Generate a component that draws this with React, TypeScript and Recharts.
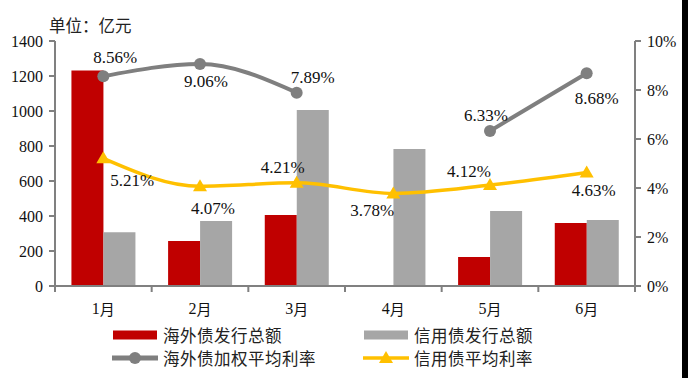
import React from "react";
import { Bar, ComposedChart, LabelList, Line, XAxis, YAxis } from "recharts";

/* ── data ── */
const months = ["1月", "2月", "3月", "4月", "5月", "6月"];
const overseasIssue = [1232, 257, 406, null, 166, 360]; // 海外债发行总额 (亿元)
const creditIssue = [307, 371, 1006, 783, 429, 377]; // 信用债发行总额 (亿元)
const overseasRate = [8.56, 9.06, 7.89, null, 6.33, 8.68]; // 海外债加权平均利率 (%)
const creditRate = [5.21, 4.07, 4.21, 3.78, 4.12, 4.63]; // 信用债平均利率 (%)
const leftTicks = [0, 200, 400, 600, 800, 1000, 1200, 1400];
const rightTicks = [0, 2, 4, 6, 8, 10];

/* label offsets (px) relative to each point */
const overseasLabelOffset = [
  [12, -19],
  [6, 17],
  [16, -15],
  [0, 0],
  [-4, -15],
  [10, 25],
];
const creditLabelOffset = [
  [29, 22],
  [13, 22],
  [-14, -15],
  [-21, 17],
  [-21, -14],
  [7, 18],
];

const data = months.map((month, i) => ({
  month,
  overseasIssue: overseasIssue[i],
  creditIssue: creditIssue[i],
  overseasRate: overseasRate[i],
  creditRate: creditRate[i],
}));

const W = 688;
const H = 378;
const LEFT_W = 55;
const RIGHT_W = 53;
const HALF_BAND = (W - LEFT_W - RIGHT_W) / months.length / 2;

const RED = "#C00000";
const GRAY_BAR = "#A6A6A6";
const GRAY_LINE = "#7F7F7F";
const YELLOW = "#FFC000";
const AXIS = "#808080";
const SERIF = "'Liberation Serif', 'Times New Roman', serif";
const CJK = "'Noto Sans CJK SC', sans-serif";

function CatTick(props: any) {
  const { x, y, payload, index } = props;
  const last = index === months.length - 1;
  const num = String(payload.value).replace("月", "");
  return (
    <g>
      <line x1={x - HALF_BAND} y1={y} x2={x - HALF_BAND} y2={y + 6} stroke={AXIS} strokeWidth={2} />
      {last && (
        <line x1={x + HALF_BAND} y1={y} x2={x + HALF_BAND} y2={y + 6} stroke={AXIS} strokeWidth={2} />
      )}
      <text x={x} y={y + 22} textAnchor="middle" dominantBaseline="central" fontSize={16} fill="#111">
        <tspan style={{ fontFamily: SERIF }}>{num}</tspan>
        <tspan style={{ fontFamily: CJK }} fontSize={15}>月</tspan>
      </text>
    </g>
  );
}

function NumTick(props: any) {
  const { x, y, payload, anchor, suffix } = props;
  return (
    <text x={x} y={y} textAnchor={anchor} dominantBaseline="central" fontSize={16} style={{ fontFamily: SERIF }} fill="#111">
      {`${payload.value}${suffix}`}
    </text>
  );
}

function CircleDot(props: any) {
  const { cx, cy, value } = props;
  if (value == null || cy == null) return <g />;
  return <circle cx={cx} cy={cy} r={6} fill={GRAY_LINE} />;
}

function TriangleDot(props: any) {
  const { cx, cy, value } = props;
  if (value == null || cy == null) return <g />;
  return <polygon points={`${cx},${cy - 7} ${cx - 7},${cy + 5} ${cx + 7},${cy + 5}`} fill={YELLOW} />;
}

function makeLabel(offsets: number[][]) {
  return (props: any) => {
    const { x, y, value, index } = props;
    if (value == null || y == null) return null;
    const [dx, dy] = offsets[index] || [0, 0];
    return (
      <text x={x + dx} y={y + dy} textAnchor="middle" dominantBaseline="central" fontSize={17} style={{ fontFamily: SERIF }} fill="#111">
        {`${value.toFixed(2)}%`}
      </text>
    );
  };
}

function LegendItem({ kind, color, label }: { kind: "bar" | "circle" | "triangle"; color: string; label: string }) {
  return (
    <div style={{ display: "flex", alignItems: "center", height: 20 }}>
      <svg width={46} height={16} style={{ marginRight: 5 }}>
        {kind === "bar" && <rect x={1} y={3.5} width={44} height={9} fill={color} />}
        {kind === "circle" && (
          <g>
            <line x1={0} y1={8} x2={46} y2={8} stroke={color} strokeWidth={5} strokeLinecap="round" />
            <circle cx={23} cy={8} r={6} fill={color} />
          </g>
        )}
        {kind === "triangle" && (
          <g>
            <line x1={0} y1={8} x2={46} y2={8} stroke={color} strokeWidth={3.5} />
            <polygon points="23,1 16,13 30,13" fill={color} />
          </g>
        )}
      </svg>
      <span style={{ fontFamily: CJK, fontSize: 16.5, color: "#222", letterSpacing: 0.5 }}>{label}</span>
    </div>
  );
}

export default function App() {
  return (
    <div style={{ position: "absolute", left: 0, top: 0, width: W, height: H, background: "#fff" }}>
      <ComposedChart
        width={W}
        height={H}
        data={data}
        margin={{ top: 41, right: 0, bottom: 62, left: 0 }}
        barGap={0}
        barCategoryGap="17%"
      >
        <XAxis
          dataKey="month"
          interval={0}
          height={30}
          tickLine={false}
          tickSize={0}
          tickMargin={0}
          axisLine={{ stroke: AXIS, strokeWidth: 2 }}
          tick={<CatTick />}
        />
        <YAxis
          yAxisId="left"
          width={LEFT_W}
          domain={[0, 1400]}
          ticks={leftTicks}
          interval={0}
          tickSize={6}
          tickMargin={6}
          axisLine={{ stroke: AXIS, strokeWidth: 2 }}
          tickLine={{ stroke: AXIS, strokeWidth: 2 }}
          tick={<NumTick anchor="end" suffix="" />}
        />
        <YAxis
          yAxisId="right"
          orientation="right"
          width={RIGHT_W}
          domain={[0, 10]}
          ticks={rightTicks}
          interval={0}
          tickSize={6}
          tickMargin={6}
          axisLine={{ stroke: AXIS, strokeWidth: 2 }}
          tickLine={{ stroke: AXIS, strokeWidth: 2 }}
          tick={<NumTick anchor="start" suffix="%" />}
        />

        <Bar yAxisId="left" dataKey="overseasIssue" fill={RED} isAnimationActive={false} />
        <Bar yAxisId="left" dataKey="creditIssue" fill={GRAY_BAR} isAnimationActive={false} />

        <Line
          yAxisId="right"
          type="monotone"
          dataKey="overseasRate"
          stroke={GRAY_LINE}
          strokeWidth={4}
          connectNulls={false}
          dot={<CircleDot />}
          activeDot={false}
          isAnimationActive={false}
        >
          <LabelList dataKey="overseasRate" content={makeLabel(overseasLabelOffset)} />
        </Line>
        <Line
          yAxisId="right"
          type="monotone"
          dataKey="creditRate"
          stroke={YELLOW}
          strokeWidth={3.5}
          dot={<TriangleDot />}
          activeDot={false}
          isAnimationActive={false}
        >
          <LabelList dataKey="creditRate" content={makeLabel(creditLabelOffset)} />
        </Line>
      </ComposedChart>

      {/* unit title */}
      <div style={{ position: "absolute", left: 49, top: 14, fontFamily: CJK, fontSize: 16.5, color: "#222", lineHeight: "22px" }}>
        单位：亿元
      </div>

      {/* legend */}
      <div style={{ position: "absolute", left: 112, top: 325 }}>
        <LegendItem kind="bar" color={RED} label="海外债发行总额" />
      </div>
      <div style={{ position: "absolute", left: 363, top: 325 }}>
        <LegendItem kind="bar" color={GRAY_BAR} label="信用债发行总额" />
      </div>
      <div style={{ position: "absolute", left: 112, top: 348 }}>
        <LegendItem kind="circle" color={GRAY_LINE} label="海外债加权平均利率" />
      </div>
      <div style={{ position: "absolute", left: 363, top: 348 }}>
        <LegendItem kind="triangle" color={YELLOW} label="信用债平均利率" />
      </div>

      {/* dark strip on the right edge */}
      <div style={{ position: "absolute", left: 682, top: 0, width: 6, height: H, background: "#000" }} />
    </div>
  );
}
